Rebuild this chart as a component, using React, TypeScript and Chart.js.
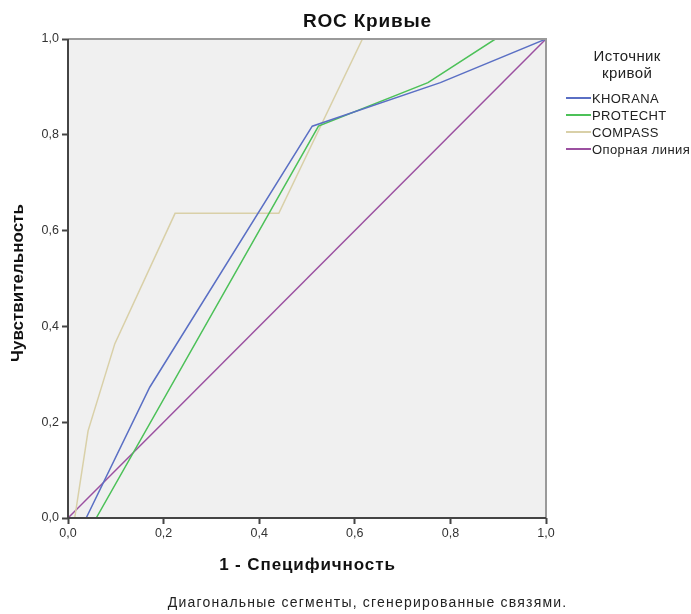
import React, { useEffect, useRef } from "react";
import { Chart, registerables } from "chart.js";

Chart.register(...registerables);

const TITLE = "ROC Кривые";
const X_TITLE = "1 - Специфичность";
const Y_TITLE = "Чувствительность";
const FOOTNOTE = "Диагональные сегменты, сгенерированные связями.";
const LEGEND_TITLE = ["Источник", "кривой"];

const SERIES_NAMES = ["KHORANA", "PROTECHT", "COMPASS", "Опорная линия"];
const SERIES_COLORS = ["#5a6fc4", "#4cc158", "#d9d0a8", "#9b50a0"];

const KHORANA_X = [0, 0.038, 0.171, 0.511, 0.779, 1];
const KHORANA_Y = [0, 0, 0.273, 0.818, 0.909, 1];
const PROTECHT_X = [0, 0.059, 0.524, 0.753, 0.894, 1];
const PROTECHT_Y = [0, 0, 0.818, 0.909, 1, 1];
const COMPASS_X = [0, 0.014, 0.042, 0.098, 0.224, 0.441, 0.616, 1];
const COMPASS_Y = [0, 0, 0.182, 0.364, 0.636, 0.636, 1, 1];
const REF_X = [0, 1];
const REF_Y = [0, 1];

const TICKS = [0, 0.2, 0.4, 0.6, 0.8, 1.0];

const FONT = "'Liberation Sans', Arial, sans-serif";

function pts(xs: number[], ys: number[]) {
  return xs.map((x, i) => ({ x, y: ys[i] }));
}

function spaced(ctx: any, text: string, x: number, y: number, sp: number) {
  ctx.letterSpacing = sp + "px";
  const off = ctx.textAlign === "center" ? sp / 2 : 0;
  ctx.fillText(text, x + off, y);
  ctx.letterSpacing = "0px";
}

export default function App() {
  const ref = useRef<HTMLCanvasElement | null>(null);

  useEffect(() => {
    document.body.style.margin = "0";
    const canvas = ref.current;
    if (!canvas) return;

    const decor = {
      id: "decor",
      beforeDatasetsDraw(chart: any) {
        const { ctx, chartArea: a } = chart;
        ctx.save();
        ctx.fillStyle = "#f0f0f0";
        ctx.fillRect(a.left, a.top, a.right - a.left, a.bottom - a.top);
        ctx.restore();
      },
      afterDraw(chart: any) {
        const { ctx, chartArea: a } = chart;
        ctx.save();
        ctx.strokeStyle = "#9a9a9a";
        ctx.lineWidth = 2;
        ctx.beginPath();
        ctx.moveTo(a.left, a.top);
        ctx.lineTo(a.right, a.top);
        ctx.lineTo(a.right, a.bottom);
        ctx.stroke();
        ctx.strokeStyle = "#444";
        ctx.beginPath();
        ctx.moveTo(a.left, a.top);
        ctx.lineTo(a.left, a.bottom);
        ctx.lineTo(a.right, a.bottom);
        ctx.stroke();

        ctx.fillStyle = "#111";
        ctx.textAlign = "center";
        ctx.textBaseline = "middle";
        ctx.font = `bold 19px ${FONT}`;
        spaced(ctx, TITLE, 367, 22, 0.8);

        ctx.font = `bold 17px ${FONT}`;
        spaced(ctx, X_TITLE, 307, 565, 0.9);
        ctx.save();
        ctx.translate(18, 283);
        ctx.rotate(-Math.PI / 2);
        spaced(ctx, Y_TITLE, 0, 0, 0);
        ctx.restore();

        ctx.font = `14px ${FONT}`;
        ctx.fillStyle = "#222";
        spaced(ctx, FOOTNOTE, 367, 603, 1.2);

        ctx.font = `15px ${FONT}`;
        ctx.fillStyle = "#222";
        spaced(ctx, LEGEND_TITLE[0], 627, 57, 0.4);
        spaced(ctx, LEGEND_TITLE[1], 627, 74, 0.4);
        ctx.font = `13px ${FONT}`;
        ctx.textAlign = "left";
        SERIES_NAMES.forEach((name, i) => {
          const y = 98 + i * 17;
          ctx.strokeStyle = SERIES_COLORS[i];
          ctx.lineWidth = 2;
          ctx.beginPath();
          ctx.moveTo(566, y);
          ctx.lineTo(591, y);
          ctx.stroke();
          ctx.fillStyle = "#222";
          spaced(ctx, name, 592, y + 1, 0.4);
        });
        ctx.restore();
      },
    };

    const datasets = [
      pts(KHORANA_X, KHORANA_Y),
      pts(PROTECHT_X, PROTECHT_Y),
      pts(COMPASS_X, COMPASS_Y),
      pts(REF_X, REF_Y),
    ].map((data, i) => ({
      label: SERIES_NAMES[i],
      data,
      borderColor: SERIES_COLORS[i],
      backgroundColor: SERIES_COLORS[i],
      borderWidth: 1.5,
      pointRadius: 0,
      fill: false,
      tension: 0,
    }));

    const tickCb = (v: any) => Number(v).toFixed(1).replace(".", ",");

    const chart = new Chart(canvas, {
      type: "line",
      data: { datasets: datasets as any },
      options: {
        animation: false,
        responsive: false,
        maintainAspectRatio: false,
        layout: { padding: { left: 28, right: 145, top: 39, bottom: 56 } },
        plugins: {
          legend: { display: false },
          title: { display: false },
          tooltip: { enabled: false },
        },
        scales: {
          x: {
            type: "linear",
            min: 0,
            max: 1,
            afterFit: (s: any) => {
              s.height = 40;
            },
            afterBuildTicks: (s: any) => {
              s.ticks = TICKS.map((v) => ({ value: v }));
            },
            grid: {
              drawOnChartArea: false,
              drawTicks: true,
              tickLength: 6,
              tickWidth: 2,
              tickColor: "#444",
            },
            border: { display: false },
            ticks: {
              callback: tickCb,
              color: "#333",
              font: { family: FONT, size: 12.5 },
              padding: 2,
              maxRotation: 0,
              autoSkip: false,
            },
          },
          y: {
            type: "linear",
            min: 0,
            max: 1,
            afterFit: (s: any) => {
              s.width = 40;
            },
            afterBuildTicks: (s: any) => {
              s.ticks = TICKS.map((v) => ({ value: v }));
            },
            grid: {
              drawOnChartArea: false,
              drawTicks: true,
              tickLength: 6,
              tickWidth: 2,
              tickColor: "#444",
            },
            border: { display: false },
            ticks: {
              callback: tickCb,
              color: "#333",
              font: { family: FONT, size: 12.5 },
              padding: 3,
              autoSkip: false,
            },
          },
        },
      },
      plugins: [decor],
    });

    return () => chart.destroy();
  }, []);

  return (
    <div style={{ position: "absolute", left: 0, top: 0, width: 691, height: 614 }}>
      <canvas ref={ref} width={691} height={614} style={{ width: 691, height: 614 }} />
    </div>
  );
}
